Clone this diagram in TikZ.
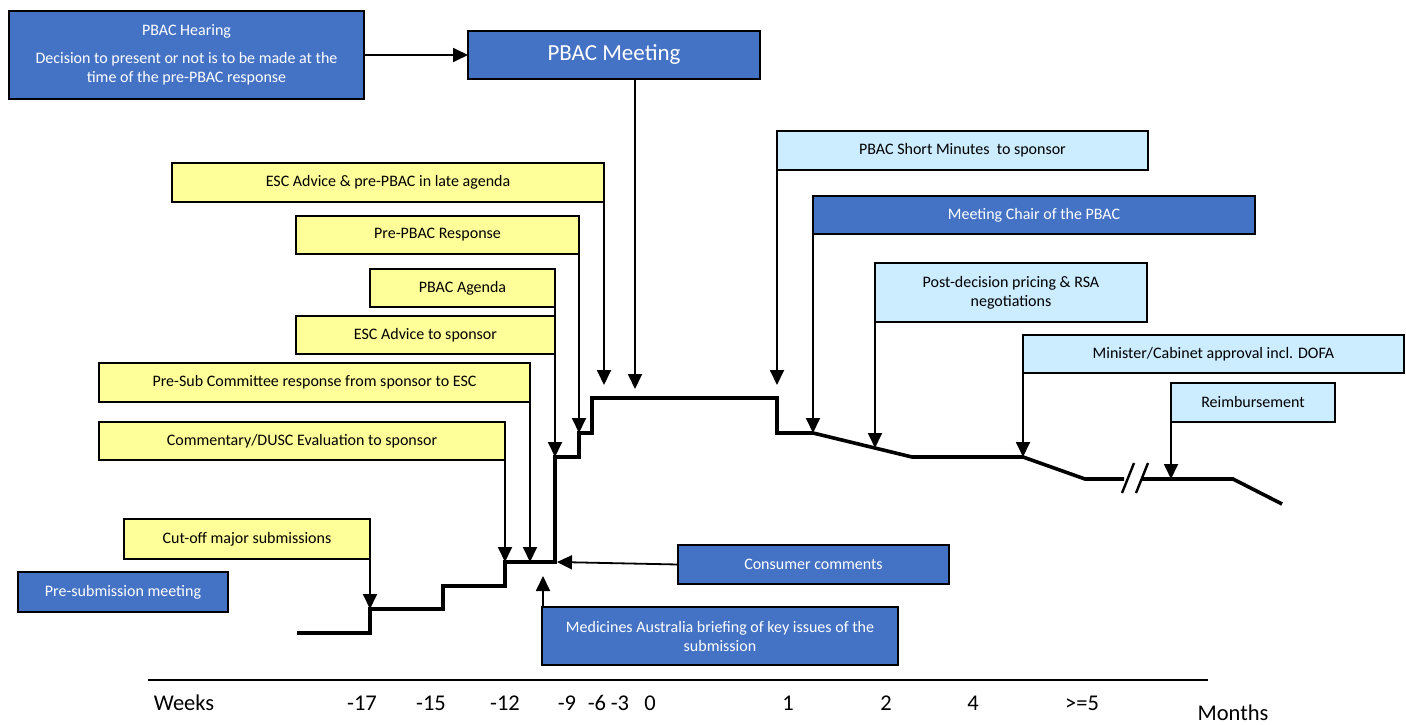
\documentclass[tikz,border=0pt]{standalone}
\usepackage{fontspec}
\setmainfont{Carlito}
\usetikzlibrary{arrows.meta}
\definecolor{dblue}{HTML}{4472C4}
\definecolor{yel}{HTML}{FFFF99}
\definecolor{lblue}{HTML}{CCECFF}

\begin{document}
\begin{tikzpicture}[x=1pt,y=-1pt,
  box/.style={draw=black, line width=1.5pt, inner sep=2pt, outer sep=0pt,
    anchor=north west, align=center, font=\fontsize{16}{19}\selectfont},
  darkbox/.style={box, fill=dblue, text=white},
  yelbox/.style={box, fill=yel, text=black},
  lightbox/.style={box, fill=lblue, text=black},
  conn/.style={line width=1.8pt, -{Triangle[length=15pt,width=14pt]}},
  timeline/.style={line width=3.6pt, line join=miter},
  brk/.style={line width=2.4pt},
  axislabel/.style={font=\fontsize{22.5}{26}\selectfont, inner sep=0pt}
]
\useasboundingbox (0,0) rectangle (1406,725);

% ---------- points on the time line ----------
\coordinate (s0)  at (297,633);
\coordinate (s1)  at (370,633);
\coordinate (s2)  at (370,609);
\coordinate (s3)  at (443,609);
\coordinate (s4)  at (443,586);
\coordinate (s5)  at (505,586);
\coordinate (s6)  at (505,562);
\coordinate (s7)  at (555,562);
\coordinate (s8)  at (555,457);
\coordinate (s9)  at (579,457);
\coordinate (s10) at (579,433);
\coordinate (s11) at (592,433);
\coordinate (s12) at (592,398);
\coordinate (s13) at (777,398);
\coordinate (s14) at (777,433);
\coordinate (s15) at (813,433);
\coordinate (s16) at (912,457);
\coordinate (s17) at (1023,457);
\coordinate (s18) at (1085,479);
\coordinate (s19) at (1124,479);
\coordinate (s20) at (1141,479);
\coordinate (s21) at (1233,479);
\coordinate (s22) at (1282,504);

% arrow targets
\coordinate (pm) at (635,389);
\coordinate (a1) at (604,385);
\coordinate (ps) at (530,562);
\coordinate (cc) at (557,562);
\coordinate (ma) at (543,576);
\coordinate (a2) at (777,385);
\coordinate (pd) at (875,448);
\coordinate (rb) at (1171,479);

% break marks
\coordinate (b1a) at (1122,493);
\coordinate (b1b) at (1134,463);
\coordinate (b2a) at (1136,493);
\coordinate (b2b) at (1148,463);

% ---------- boxes ----------
\node[darkbox, minimum width=355pt, minimum height=88pt] (hearing) at (9,11)
  {PBAC Hearing\\[9pt]Decision to present or not is to be made at the\\time of the pre-PBAC response};
\node[darkbox, minimum width=292pt, minimum height=48pt, font=\fontsize{23}{27}\selectfont] (meeting) at (468,31) {PBAC Meeting};

\node[yelbox, minimum width=432pt, minimum height=39pt] (esclate) at (172,163) {ESC Advice \& pre-PBAC in late agenda};
\node[yelbox, minimum width=283pt, minimum height=38pt] (prepbac) at (296,216) {Pre-PBAC Response};
\node[yelbox, minimum width=185pt, minimum height=38pt] (agenda) at (370,269) {PBAC Agenda};
\node[yelbox, minimum width=259pt, minimum height=38pt] (escadv) at (296,316) {ESC Advice to sponsor};
\node[yelbox, minimum width=431pt, minimum height=39pt] (presub) at (99,363) {Pre-Sub Committee response from sponsor to ESC};
\node[yelbox, minimum width=406pt, minimum height=38pt] (comment) at (99,422) {Commentary/DUSC Evaluation to sponsor};
\node[yelbox, minimum width=246pt, minimum height=40pt] (cutoff) at (124,519) {Cut-off major submissions};

\node[darkbox, minimum width=210pt, minimum height=40pt] (presubm) at (18,572) {Pre-submission meeting};
\node[darkbox, minimum width=271pt, minimum height=39pt] (consumer) at (678,545) {Consumer comments};
\node[darkbox, minimum width=356pt, minimum height=58pt] (medicines) at (542,607)
  {Medicines Australia briefing of key issues of the\\submission};

\node[lightbox, minimum width=371pt, minimum height=39pt] (minutes) at (777,131) {PBAC Short Minutes\ \ to sponsor};
\node[darkbox, minimum width=442pt, minimum height=38pt] (chair) at (813,196) {Meeting Chair of the PBAC};
\node[lightbox, minimum width=272pt, minimum height=59pt] (postdec) at (875,263) {Post-decision pricing \& RSA\\negotiations};
\node[lightbox, minimum width=381pt, minimum height=38pt] (minister) at (1023,335) {Minister/Cabinet approval incl. DOFA};
\node[lightbox, minimum width=164pt, minimum height=39pt] (reimb) at (1171,383) {Reimbursement};

% ---------- time line ----------
\draw[timeline] (s0) -- (s1) -- (s2) -- (s3) -- (s4) -- (s5) -- (s6) -- (s7)
  -- (s8) -- (s9) -- (s10) -- (s11) -- (s12) -- (s13) -- (s14) -- (s15)
  -- (s16) -- (s17) -- (s18) -- (s19);
\draw[timeline] (s20) -- (s21) -- (s22);
\draw[brk] (b1a) -- (b1b);
\draw[brk] (b2a) -- (b2b);

% ---------- connectors ----------
\draw[conn] (hearing.east) -- (meeting.west);
\draw[conn] (meeting.south -| pm) -- (pm);
\draw[conn] (esclate.south east) -- (a1);
\draw[conn] (prepbac.south east) -- (s10);
\draw[conn] (agenda.south east) -- (s8);
\draw[conn] (presub.south east) -- (ps);
\draw[conn] (comment.south east) -- (s6);
\draw[conn] (cutoff.south east) -- (s2);
\draw[conn] (consumer.west) -- (cc);
\draw[conn] (ma |- medicines.north) -- (ma);
\draw[conn] (minutes.south west) -- (a2);
\draw[conn] (chair.south west) -- (s15);
\draw[conn] (postdec.south west) -- (pd);
\draw[conn] (minister.south west) -- (s17);
\draw[conn] (reimb.south west) -- (rb);

% ---------- axis ----------
\coordinate (ax0) at (148,680);
\coordinate (ax1) at (1208,680);
\draw[line width=2pt] (ax0) -- (ax1);
\node[axislabel] (lw)   at (184,703) {Weeks};
\node[axislabel] (l17)  at (362,703) {-17};
\node[axislabel] (l15)  at (431,703) {-15};
\node[axislabel] (l12)  at (505,703) {-12};
\node[axislabel] (l9)   at (567,703) {-9};
\node[axislabel] (l6)   at (597,703) {-6};
\node[axislabel] (l3)   at (620,703) {-3};
\node[axislabel] (l0)   at (650,703) {0};
\node[axislabel] (m1)   at (788,703) {1};
\node[axislabel] (m2)   at (886,703) {2};
\node[axislabel] (m4)   at (973,703) {4};
\node[axislabel] (m5)   at (1082,703) {>=5};
\node[axislabel] (lm)   at (1233,713) {Months};
\end{tikzpicture}
\end{document}
